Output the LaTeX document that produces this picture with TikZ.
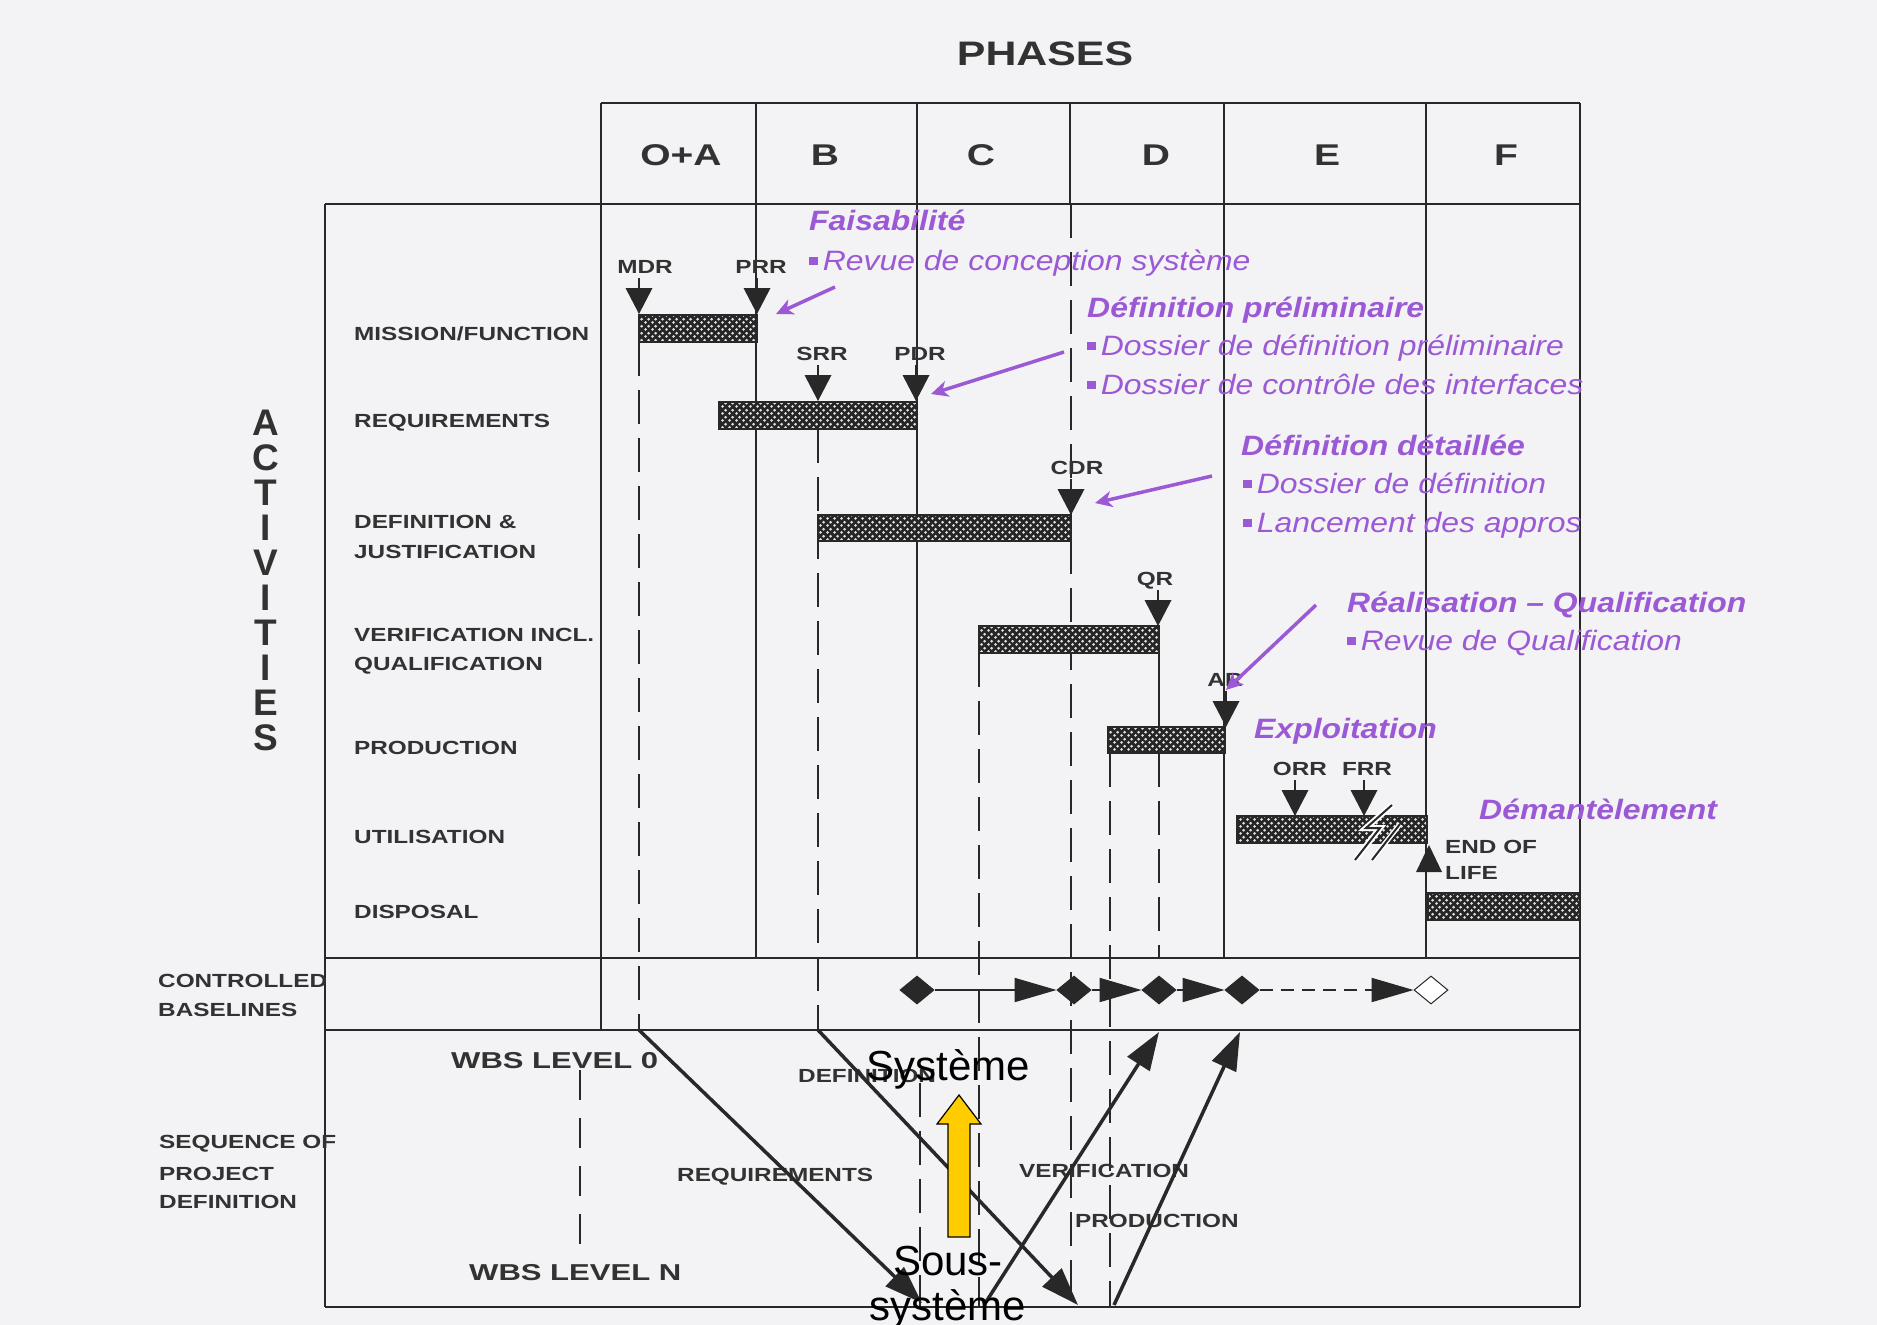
\documentclass[tikz,border=0pt]{standalone}
\usepackage{fontspec}
\setmainfont{Liberation Sans}
\usepackage{graphicx}
\usetikzlibrary{arrows.meta,shapes.geometric,patterns.meta}

\definecolor{ink}{RGB}{40,40,40}
\definecolor{txt}{RGB}{50,50,50}
\definecolor{pur}{RGB}{155,89,214}
\definecolor{paper}{RGB}{243,243,245}
\definecolor{gold}{RGB}{255,204,0}

% dotted fill of the activity bars
\tikzdeclarepattern{
  name=bardots,
  type=uncolored,
  bounding box={(0pt,0pt) and (7pt,7pt)},
  tile size={(7pt,7pt)},
  code={
    \pgfpathcircle{\pgfqpoint{1.75pt}{1.75pt}}{1.6pt}
    \pgfpathcircle{\pgfqpoint{5.25pt}{5.25pt}}{1.6pt}
    \pgfusepath{fill}
  }
}

\newcommand\hx[2]{\scalebox{#1}[1]{#2}}
\newcommand\lbl[1]{\hx{1.28}{#1}}
\newcommand\ptx[1]{\hx{1.14}{#1}}
\newcommand\bul{\rule[5pt]{7.5pt}{8pt}\hspace{4.5pt}}

% milestone: name, triangle x, label x, label, tip y
\newcommand\msdown[5]{%
  \node[ms] (#1) at (#3,#5-41) {\lbl{#4}};
  \draw[chart] (#2,#5-36) -- (#2,#5-26);
  \fill[ink] (#2-13.5,#5-26) -- (#2+13.5,#5-26) -- (#2,#5) -- cycle;
}

\begin{document}
\begin{tikzpicture}[x=1pt,y=-1pt,
  chart/.style={draw=ink, line width=2pt},
  dashline/.style={draw=ink, line width=2pt, dash pattern=on 34pt off 14pt},
  bar/.style={draw=ink, line width=1.8pt, preaction={fill=black!85},
    pattern=bardots, pattern color=white!88!black},
  lab/.style={font=\fontsize{19}{22}\selectfont\bfseries, text=txt,
    inner sep=0pt, anchor=base west},
  ms/.style={lab, anchor=base},
  wbs/.style={lab, font=\fontsize{23}{26}\selectfont\bfseries},
  big/.style={font=\fontsize{34}{40}\selectfont\bfseries, text=txt,
    inner sep=0pt, anchor=base},
  phase/.style={big, font=\fontsize{30}{36}\selectfont\bfseries},
  act/.style={big, font=\fontsize{37}{40}\selectfont\bfseries,
    text height=26pt, text depth=0pt},
  pt/.style={font=\fontsize{28}{32}\selectfont\itshape, text=pur,
    inner sep=0pt, anchor=base west},
  ph/.style={pt, font=\fontsize{28}{32}\selectfont\bfseries\itshape},
  blk/.style={font=\fontsize{42}{48}\selectfont, text=black,
    inner sep=0pt, anchor=base},
  mile/.style={diamond, draw=ink, fill=ink, line width=1pt,
    minimum width=34pt, minimum height=28pt, inner sep=0pt},
  btip/.style={-{Triangle[length=42pt,width=24pt]}},
  vline/.style={draw=ink, line width=3.5pt, -{Triangle[length=38pt,width=26pt]}},
  parr/.style={draw=pur, line width=3.5pt, -{Stealth[length=17pt,width=16pt,inset=5pt]}}
]
\useasboundingbox (0,0) rectangle (1877,1325);
\fill[paper] (0,0) rectangle (1877,1325);

% ---- title and phase header
\node[big] (phases) at (1045,65) {\hx{1.26}{PHASES}};
\foreach \nm/\x/\t in {pa/681/O+A, pb/825/B, pc/981/C, pd/1156/D, pe/1327/E, pf/1506/F}
  \node[phase] (\nm) at (\x,165) {\hx{1.3}{\t}};

% ---- dashed guide lines
\draw[dashline] (1071,204) -- (1071,1307);
\draw[dashline] (639,342) -- (639,1030);
\draw[dashline] (818,429) -- (818,1030);
\draw[dashline] (979,653) -- (979,1307);
\draw[dashline] (1110,753) -- (1110,1307);
\draw[chart] (1159,653) -- (1159,727);
\draw[dashline] (1159,753) -- (1159,958);
\draw[dashline] (920,1083) -- (920,1307);
\draw[dashline, dash pattern=on 30pt off 18pt] (580,1070) -- (580,1260);

% ---- frame of the chart
\draw[chart] (601,103) -- (1580,103);
\draw[chart] (325,204) -- (1580,204);
\draw[chart] (325,958) -- (1580,958);
\draw[chart] (325,1030) -- (1580,1030);
\draw[chart] (325,1307) -- (1580,1307);
\draw[chart] (325,204) -- (325,1307);
\draw[chart] (1580,103) -- (1580,1307);
\draw[chart] (601,103) -- (601,1030);
\draw[chart] (756,103) -- (756,958);
\draw[chart] (917,103) -- (917,958);
\draw[chart] (1070,103) -- (1070,204);
\draw[chart] (1224,103) -- (1224,958);
\draw[chart] (1426,103) -- (1426,958);

% ---- activity bars
\path[bar] (639,315) rectangle (757,342);
\path[bar] (719,402) rectangle (917,429);
\path[bar] (818,515) rectangle (1071,541);
\path[bar] (979,626) rectangle (1159,653);
\path[bar] (1108,727) rectangle (1225,753);
\path[bar] (1237,816) rectangle (1427,843);
\path[bar] (1428,893) rectangle (1580,920);

% ---- reviews
\msdown{mdr}{639}{645}{MDR}{314}
\msdown{prr}{757}{761}{PRR}{314}
\msdown{srr}{818}{822}{SRR}{401}
\msdown{pdr}{916}{920}{PDR}{401}
\msdown{cdr}{1071}{1077}{CDR}{515}
\msdown{qr}{1158}{1155}{QR}{626}
\msdown{ar}{1226}{1225}{AR}{727}
\msdown{orr}{1295}{1300}{ORR}{816}
\msdown{frr}{1364}{1367}{FRR}{816}

% break in the utilisation bar
\draw[white, line width=6pt] (1392,805) -- (1366,828) -- (1380,828) -- (1355,860);
\draw[ink, line width=2pt] (1392,805) -- (1366,828) -- (1380,828) -- (1355,860);
\draw[white, line width=5pt] (1400,824) -- (1372,860);
\draw[ink, line width=2pt] (1400,824) -- (1372,860);

% end of life
\fill[ink] (1416,872) -- (1442,872) -- (1429,845) -- cycle;
\node[lab] (eol1) at (1445,853) {\lbl{END OF}};
\node[lab] (eol2) at (1445,879) {\lbl{LIFE}};

% ---- row labels
\foreach \nm/\y/\t in {r1/340/{MISSION/FUNCTION}, r2/427/REQUIREMENTS,
    r3/528/{DEFINITION \&}, r3b/558/JUSTIFICATION, r4/641/{VERIFICATION INCL.},
    r4b/670/QUALIFICATION, r5/754/PRODUCTION, r6/843/UTILISATION, r7/918/DISPOSAL}
  \node[lab] (\nm) at (354,\y) {\lbl{\t}};

\foreach \ch [count=\i] in {A,C,T,I,V,I,T,I,E,S}
  \node[act] (act\i) at (266,400+35*\i) {\ch};

\node[lab] (cb1) at (158,987) {\lbl{CONTROLLED}};
\node[lab] (cb2) at (158,1016) {\lbl{BASELINES}};
\node[lab] (sq1) at (159,1148) {\lbl{SEQUENCE OF}};
\node[lab] (sq2) at (159,1180) {\lbl{PROJECT}};
\node[lab] (sq3) at (159,1208) {\lbl{DEFINITION}};

% ---- controlled baselines
\node[mile] (d1) at (917,990) {};
\node[mile] (d2) at (1074,990) {};
\node[mile] (d3) at (1159,990) {};
\node[mile] (d4) at (1242,990) {};
\node[mile, fill=white] (d5) at (1431,990) {};
\draw[chart, btip] (d1) -- (d2);
\draw[chart, btip] (d2) -- (d3);
\draw[chart, btip] (d3) -- (d4);
\draw[chart, btip, dash pattern=on 13pt off 8pt] (d4) -- (d5);

% ---- sequence of project definition
\node[wbs] (w0) at (451,1068) {\hx{1.35}{WBS LEVEL 0}};
\node[wbs] (wn) at (469,1280) {\hx{1.35}{WBS LEVEL N}};
\node[lab] (sdef) at (798,1082) {\lbl{DEFINITION}};
\node[lab] (sreq) at (677,1181) {\lbl{REQUIREMENTS}};
\node[lab] (sver) at (1019,1177) {\lbl{VERIFICATION}};
\node[lab] (spro) at (1075,1227) {\lbl{PRODUCTION}};

\coordinate (v1a) at (639,1030); \coordinate (v1b) at (922,1303);
\coordinate (v2a) at (818,1030); \coordinate (v2b) at (1078,1305);
\coordinate (v3a) at (984,1305); \coordinate (v3b) at (1159,1032);
\coordinate (v4a) at (1114,1305); \coordinate (v4b) at (1240,1032);
\draw[vline] (v1a) -- (v1b);
\draw[vline] (v2a) -- (v2b);
\draw[vline] (v3a) -- (v3b);
\draw[vline] (v4a) -- (v4b);

% system / sub-system
\node[blk] (sys) at (948,1080) {Système};
\node[blk] (sous) at (948,1275) {Sous-};
\node[blk] (ssys) at (948,1320) {système};
\filldraw[fill=gold, draw=black, line width=1.2pt]
  (948,1237) -- (970,1237) -- (970,1124) -- (981,1124) -- (959,1095)
  -- (937,1124) -- (948,1124) -- cycle;

% ---- phase notes
\node[ph] (fai) at (809,230) {\ptx{Faisabilité}};
\node[pt] (fai1) at (809,270) {\ptx{\bul Revue de conception système}};
\node[ph] (dp) at (1087,317) {\ptx{Définition préliminaire}};
\node[pt] (dp1) at (1087,355) {\ptx{\bul Dossier de définition préliminaire}};
\node[pt] (dp2) at (1087,394) {\ptx{\bul Dossier de contrôle des interfaces}};
\node[ph] (dd) at (1241,455) {\ptx{Définition détaillée}};
\node[pt] (dd1) at (1243,493) {\ptx{\bul Dossier de définition}};
\node[pt] (dd2) at (1243,532) {\ptx{\bul Lancement des appros}};
\node[ph] (rq) at (1347,612) {\ptx{Réalisation – Qualification}};
\node[pt] (rq1) at (1347,650) {\ptx{\bul Revue de Qualification}};
\node[ph] (ex) at (1254,738) {\ptx{Exploitation}};
\node[ph] (dm) at (1479,819) {\ptx{Démantèlement}};

\coordinate (p1a) at (835,287);  \coordinate (p1b) at (776,314);
\coordinate (p2a) at (1064,352); \coordinate (p2b) at (931,394);
\coordinate (p3a) at (1212,476); \coordinate (p3b) at (1095,503);
\coordinate (p4a) at (1316,605); \coordinate (p4b) at (1226,690);
\draw[parr] (p1a) -- (p1b);
\draw[parr] (p2a) -- (p2b);
\draw[parr] (p3a) -- (p3b);
\draw[parr] (p4a) -- (p4b);
\end{tikzpicture}
\end{document}
